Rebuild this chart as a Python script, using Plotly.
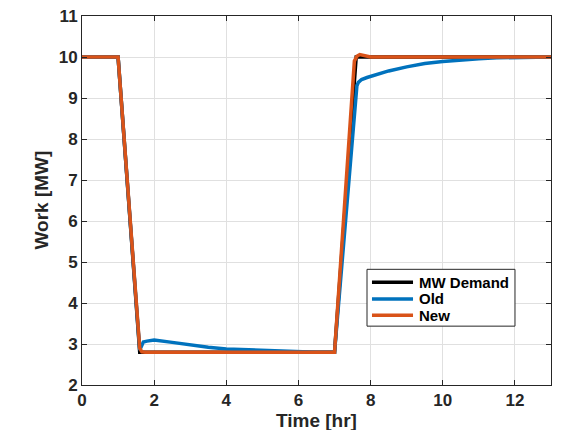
import plotly.graph_objects as go

t_demand = [0, 1.0, 1.6, 7.0, 7.6, 13]
w_demand = [10, 10, 2.8, 2.8, 10, 10]

t_old = [0, 1.0, 1.6, 1.66, 1.7, 1.8, 2.0, 2.5, 3.0, 3.5, 4.0, 4.5, 5.0, 5.5, 6.0, 6.5, 7.0,
         7.62, 7.66, 7.75, 7.9, 8.0, 8.5, 9.0, 9.5, 10.0, 10.5, 11.0, 11.5, 12.0, 13.0]
w_old = [10, 10, 2.85, 2.95, 3.05, 3.07, 3.1, 3.04, 2.97, 2.92, 2.88, 2.86, 2.84, 2.82, 2.81, 2.8, 2.8,
         9.3, 9.38, 9.45, 9.5, 9.53, 9.66, 9.76, 9.84, 9.89, 9.93, 9.96, 9.98, 9.99, 10.0]

t_new = [0, 1.0, 1.6, 1.66, 1.75, 7.0, 7.55, 7.62, 7.7, 7.85, 8.0, 13.0]
w_new = [10, 10, 2.9, 2.81, 2.8, 2.8, 9.9, 10.02, 10.06, 10.02, 10.0, 10.0]

series_names = ["MW Demand", "Old", "New"]
series_colors = ["#000000", "#0072BD", "#D95319"]

x_ticks = [0, 2, 4, 6, 8, 10, 12]
y_ticks = [2, 3, 4, 5, 6, 7, 8, 9, 10, 11]

fig = go.Figure()
for (tx, wy), name, color in zip([(t_demand, w_demand), (t_old, w_old), (t_new, w_new)],
                                 series_names, series_colors):
    fig.add_trace(go.Scatter(x=tx, y=wy, mode="lines", name=name, showlegend=False,
                             line=dict(color=color, width=3.5)))

axis_common = dict(
    showline=True, linecolor="#262626", linewidth=1, mirror="ticks",
    ticks="inside", ticklen=5, tickcolor="#262626", automargin=False,
    ticklabeloverflow="allow",
    showgrid=True, gridcolor="#E0E0E0", gridwidth=1, zeroline=False,
    tickfont=dict(family="Liberation Sans", size=17, color="#262626", weight="bold"),
)

title_font = dict(family="Liberation Sans", size=19, color="#262626", weight="bold")
legend_font = dict(family="Liberation Sans", size=15, color="#000000", weight="bold")

# legend box (paper coordinates of the plot area)
shapes = [dict(type="rect", xref="paper", yref="paper", x0=0.6077, x1=0.9232,
               y0=0.1595, y1=0.3135, line=dict(color="#262626", width=1),
               fillcolor="white", layer="above")]
annotations = [
    dict(text="Time [hr]", xref="paper", yref="paper", x=0.5, y=0,
         xanchor="center", yanchor="top", yshift=-23, showarrow=False, font=title_font),
    dict(text="Work [MW]", xref="paper", yref="paper", x=0, y=0.5,
         xanchor="center", yanchor="middle", xshift=-41, textangle=-90,
         showarrow=False, font=title_font),
]
row_y = [0.2784, 0.2332, 0.1892]
for name, color, ry in zip(series_names, series_colors, row_y):
    shapes.append(dict(type="line", xref="paper", yref="paper", x0=0.6183, x1=0.7058,
                       y0=ry, y1=ry, line=dict(color=color, width=3.5), layer="above"))
    annotations.append(dict(text=name, xref="paper", yref="paper", x=0.7150, y=ry,
                            xanchor="left", yanchor="middle", showarrow=False,
                            font=legend_font))

fig.update_layout(
    width=562, height=430,
    margin=dict(l=74, r=19, t=8, b=53),
    paper_bgcolor="white", plot_bgcolor="white",
    font=dict(family="Liberation Sans", color="#262626"),
    xaxis=dict(range=[0, 13], tickvals=x_ticks, **axis_common),
    yaxis=dict(range=[2, 11], tickvals=y_ticks, **axis_common),
    shapes=shapes,
    annotations=annotations,
)

fig.write_html("out.html")
